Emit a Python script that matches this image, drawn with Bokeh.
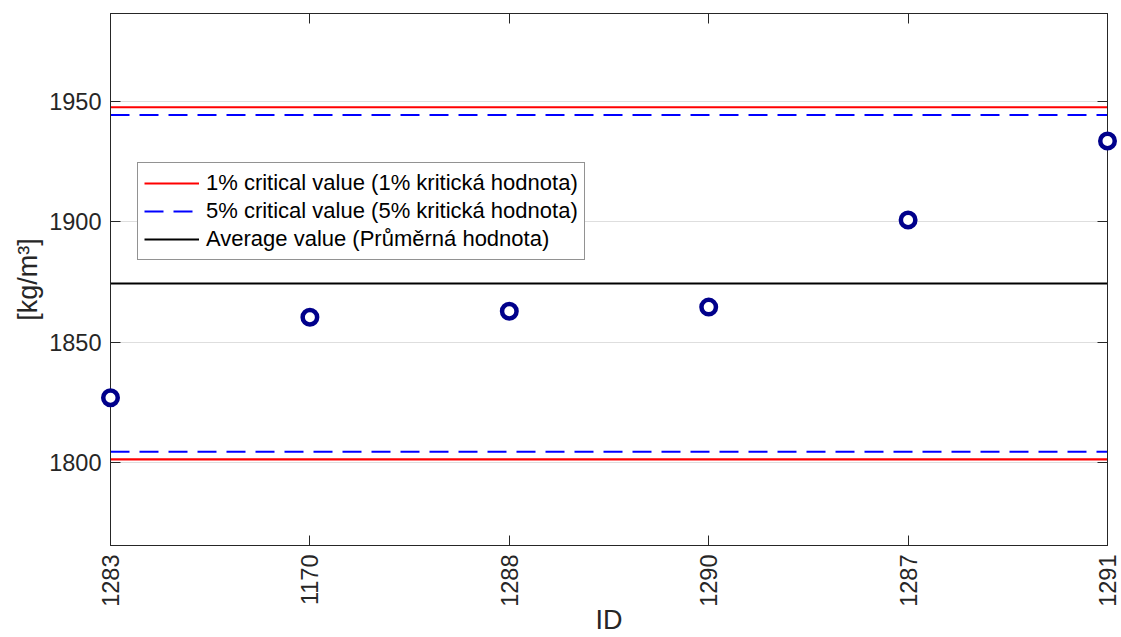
import math
from bokeh.plotting import figure
from bokeh.models import (Range1d, FixedTicker, LinearAxis, Legend, LegendItem,
                          CustomLabelingPolicy)
from bokeh.embed import file_html
from bokeh.resources import INLINE

# ---- data ----
ids = ["1283", "1170", "1288", "1290", "1287", "1291"]
density = [1827.0, 1860.4, 1862.9, 1864.6, 1900.7, 1933.5]
crit1_low, crit1_high = 1801.4, 1947.5
crit5_low, crit5_high = 1804.6, 1944.3
average = 1874.4
y_ticks = [1800, 1850, 1900, 1950]
y_min, y_max = 1765.7, 1986.4

xs = list(range(1, len(ids) + 1))
x_ends = [xs[0], xs[-1]]

FONT = "Liberation Sans"
AX = "#262626"

p = figure(width=1121, height=637, output_backend="svg", toolbar_location=None,
           x_range=Range1d(xs[0], xs[-1]), y_range=Range1d(y_min, y_max),
           min_border_left=110, min_border_right=14, min_border_top=13,
           min_border_bottom=92)
p.background_fill_color = "white"
p.border_fill_color = "white"
p.outline_line_color = AX

# axes
xt = FixedTicker(ticks=xs)
yt = FixedTicker(ticks=y_ticks)
p.xaxis.ticker = xt
p.yaxis.ticker = yt
p.xaxis.major_label_overrides = {x: l for x, l in zip(xs, ids)}
p.xaxis.major_label_orientation = math.pi / 2
for ax in (p.xaxis[0], p.yaxis[0]):
    ax.axis_line_color = AX
    ax.major_tick_line_color = AX
    ax.major_tick_in = 10
    ax.major_tick_out = 0
    ax.minor_tick_line_color = None
    ax.major_label_text_font = FONT
    ax.major_label_text_font_size = "23.5px"
    ax.major_label_text_color = AX
    ax.axis_label_text_font = FONT
    ax.axis_label_text_font_size = "27px"
    ax.axis_label_text_font_style = "normal"
    ax.axis_label_text_color = AX
p.xaxis.axis_label = "ID"
p.yaxis.axis_label = "[kg/m³]"
p.xaxis.major_label_standoff = 9
p.yaxis.major_label_standoff = 9
p.xaxis.axis_label_standoff = -5
p.yaxis.axis_label_standoff = 3

no_labels = CustomLabelingPolicy(code="if (false) { yield 0 }")
for side, tick in (("right", yt), ("above", xt)):
    a = LinearAxis(ticker=tick, major_tick_in=10, major_tick_out=0,
                   minor_tick_line_color=None, axis_line_color=AX,
                   major_tick_line_color=AX, major_label_text_font_size="1px",
                   major_label_policy=no_labels, major_label_standoff=0)
    p.add_layout(a, side)

p.xgrid.visible = False
p.ygrid.grid_line_color = "#dedede"
p.ygrid.grid_line_width = 1

# lines
r1a = p.line(x_ends, [crit1_high] * 2, line_color="#ff0000", line_width=2.2)
p.line(x_ends, [crit1_low] * 2, line_color="#ff0000", line_width=2.2)
r5a = p.line(x_ends, [crit5_high] * 2, line_color="#0000ff", line_width=2.2,
             line_dash="19 10")
p.line(x_ends, [crit5_low] * 2, line_color="#0000ff", line_width=2.2,
       line_dash="19 10")
ravg = p.line(x_ends, [average] * 2, line_color="#000000", line_width=2.2)

# points
p.scatter(xs, density, marker="circle", size=14.5, fill_color="white",
          line_color="#00008b", line_width=4.5, level="overlay")

legend = Legend(items=[
    LegendItem(label="1% critical value (1% kritická hodnota)", renderers=[r1a]),
    LegendItem(label="5% critical value (5% kritická hodnota)", renderers=[r5a]),
    LegendItem(label="Average value (Průměrná hodnota)", renderers=[ravg]),
], location=(27, 285))
legend.label_text_font = FONT
legend.label_text_font_size = "22px"
legend.label_text_color = "#000000"
legend.glyph_width = 55
legend.glyph_height = 28
legend.label_height = 28
legend.label_standoff = 7
legend.spacing = 0
legend.padding = 6
legend.margin = 0
legend.border_line_color = AX
legend.border_line_width = 1
legend.background_fill_color = "white"
legend.background_fill_alpha = 1
p.add_layout(legend, "center")

open("out.html", "w").write(file_html(p, INLINE))
